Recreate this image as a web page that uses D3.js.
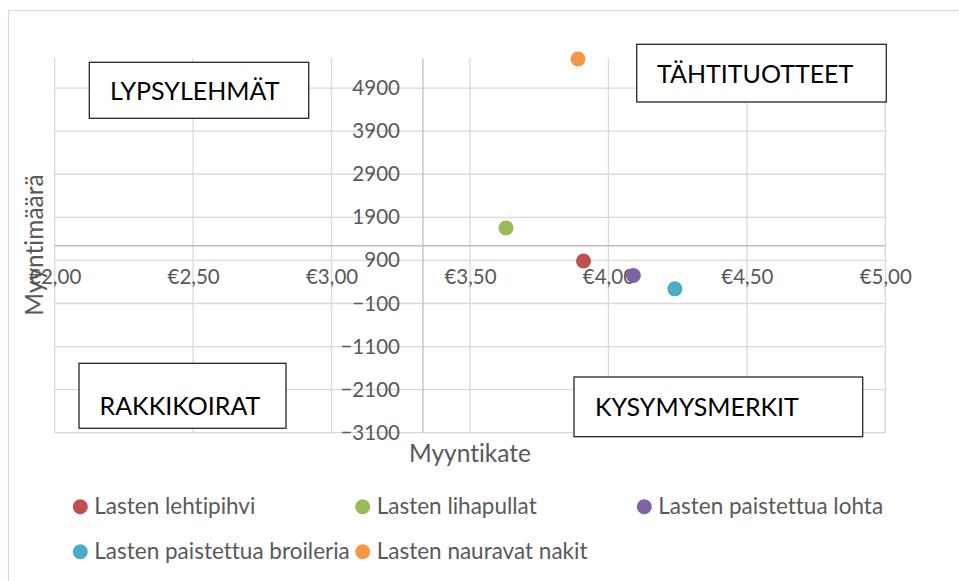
<!DOCTYPE html>
<html>
<head>
<meta charset="utf-8">
<script src="https://cdn.jsdelivr.net/npm/d3@7"></script>
<style>
  body { margin: 0; background: #fff; }
  text { font-family: Lato, "Open Sans", sans-serif; font-variant-ligatures: none; }
</style>
</head>
<body>
<div id="graphBox"></div>
<script>
// series (one point per product)
const products = ["Lasten lehtipihvi", "Lasten lihapullat", "Lasten paistettua lohta", "Lasten paistettua broileria", "Lasten nauravat nakit"];
const myyntikate = [3.91, 3.63, 4.09, 4.24, 3.89];
const myyntimaara = [885, 1655, 550, 240, 5575];
const colors = ["#C0504D", "#9BBB59", "#8064A2", "#4BACC6", "#F79646"];

// axes
const xTicks = [2.0, 2.5, 3.0, 3.5, 4.0, 4.5, 5.0];
const yTicks = [-3100, -2100, -1100, -100, 900, 1900, 2900, 3900, 4900];
const xDomain = [2.0, 5.0];
const yDomain = [-3100, 5592];
const xCross = 3.33;   // where the vertical axis sits
const yCross = 1240;   // where the horizontal axis sits

const quadrants = ["LYPSYLEHMÄT", "TÄHTITUOTTEET", "RAKKIKOIRAT", "KYSYMYSMERKIT"];

const width = 959, height = 581;
const plot = { left: 54.7, right: 885.3, top: 58.3, bottom: 432.7 };

const svg = d3.select("#graphBox").append("svg")
    .attr("width", width)
    .attr("height", height);

// chart frame
svg.append("path")
    .attr("d", `M8.5,${height} V10.5 H${width}`)
    .attr("fill", "none")
    .attr("stroke", "#D9D9D9")
    .attr("stroke-width", 1.2);

const x = d3.scaleLinear().domain(xDomain).range([plot.left, plot.right]);
const y = d3.scaleLinear().domain(yDomain).range([plot.bottom, plot.top]);

// gridlines
const grid = svg.append("g").attr("stroke", "#D9D9D9").attr("stroke-width", 1.3);
grid.selectAll(".vgrid").data(xTicks).enter().append("line")
    .attr("x1", d => x(d)).attr("x2", d => x(d))
    .attr("y1", plot.top).attr("y2", plot.bottom);
grid.selectAll(".hgrid").data(yTicks).enter().append("line")
    .attr("x1", plot.left).attr("x2", plot.right)
    .attr("y1", d => y(d)).attr("y2", d => y(d));

// axis lines
svg.append("line")
    .attr("x1", plot.left).attr("x2", plot.right)
    .attr("y1", y(yCross)).attr("y2", y(yCross))
    .attr("stroke", "#BFBFBF").attr("stroke-width", 1.3);
svg.append("line")
    .attr("x1", x(xCross)).attr("x2", x(xCross))
    .attr("y1", plot.top).attr("y2", plot.bottom)
    .attr("stroke", "#BFBFBF").attr("stroke-width", 1.3);

// tick labels
const fmtEuro = d => "€" + d.toFixed(2).replace(".", ",");
const xAxis = svg.append("g")
    .attr("transform", `translate(0, ${y(yCross)})`)
    .call(d3.axisBottom(x).tickValues(xTicks).tickSize(0).tickPadding(24).tickFormat(fmtEuro));
const yAxis = svg.append("g")
    .attr("transform", `translate(${x(xCross)}, 0)`)
    .call(d3.axisLeft(y).tickValues(yTicks).tickSize(0).tickPadding(23).tickFormat(d3.format("d")));
[xAxis, yAxis].forEach(a => {
    a.select(".domain").remove();
    a.selectAll("text")
        .attr("fill", "#595959")
        .style("font-size", "20.5px")
        .style("font-family", "Lato, sans-serif");
});

// axis titles
svg.append("text")
    .attr("transform", `translate(43, 245) rotate(-90)`)
    .attr("text-anchor", "middle")
    .attr("fill", "#595959")
    .style("font-size", "24.5px")
    .text("Myyntimäärä");
svg.append("text")
    .attr("x", 470).attr("y", 462)
    .attr("text-anchor", "middle")
    .attr("fill", "#595959")
    .style("font-size", "24.5px")
    .text("Myyntikate");

// quadrant label boxes (pixel layout of the annotations)
const boxes = [
    { x: 89.3, y: 62.3, w: 219.4, h: 56, tx: 110, ty: 100 },
    { x: 636.7, y: 44.3, w: 249.6, h: 57.7, tx: 657, ty: 83 },
    { x: 79, y: 363.3, w: 207, h: 65, tx: 99.5, ty: 414.5 },
    { x: 574, y: 377, w: 288.7, h: 59.7, tx: 595, ty: 416 }
];
const boxG = svg.selectAll(".quad").data(quadrants).enter().append("g");
boxG.append("rect")
    .attr("x", (d, i) => boxes[i].x).attr("y", (d, i) => boxes[i].y)
    .attr("width", (d, i) => boxes[i].w).attr("height", (d, i) => boxes[i].h)
    .attr("fill", "#fff")
    .attr("stroke", "#262626")
    .attr("stroke-width", 1.3);
boxG.append("text")
    .attr("x", (d, i) => boxes[i].tx).attr("y", (d, i) => boxes[i].ty)
    .attr("fill", "#000")
    .style("font-size", "25px")
    .text(d => d);

// points
svg.selectAll(".dot").data(products).enter().append("circle")
    .attr("cx", (d, i) => x(myyntikate[i]))
    .attr("cy", (d, i) => y(myyntimaara[i]))
    .attr("r", 7.5)
    .attr("fill", (d, i) => colors[i]);

// legend: 3 items on first row, 2 on second
const legendCols = [80.3, 362.7, 644.3];
const legendRows = [506.7, 551.7];
const legend = svg.selectAll(".legend").data(products).enter().append("g")
    .attr("transform", (d, i) => `translate(${legendCols[i % 3]}, ${legendRows[Math.floor(i / 3)]})`);
legend.append("circle")
    .attr("r", 7.5)
    .attr("fill", (d, i) => colors[i]);
legend.append("text")
    .attr("x", 14)
    .attr("y", 7.5)
    .attr("fill", "#595959")
    .style("font-size", "22.5px")
    .text(d => d);
</script>
</body>
</html>
